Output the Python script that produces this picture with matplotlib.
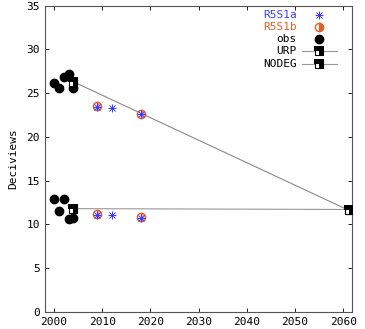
""" Deciview projection chart: observations, model runs and glide paths """

import matplotlib
matplotlib.use("Agg")
import matplotlib.pyplot as plt

# observed deciviews, worst and best days
obs_years = [2000, 2001, 2002, 2003, 2004]
obs_worst = [26.2, 25.6, 26.8, 27.2, 25.6]
obs_best = [12.9, 11.5, 12.9, 10.6, 10.7]

# model runs
r5s1a_years = [2009, 2012, 2018]
r5s1a_worst = [23.4, 23.3, 22.6]
r5s1a_best = [11.1, 11.1, 10.7]
r5s1b_years = [2009, 2018]
r5s1b_worst = [23.5, 22.6]
r5s1b_best = [11.2, 10.8]

# glide paths
urp_years = [2004, 2061.2]
urp_values = [26.3, 11.6]
nodeg_years = [2004, 2061.2]
nodeg_values = [11.8, 11.7]

blue = "#3a3aff"
orange = "#e0602a"
mono = "DejaVu Sans Mono"

# black square with the lower left quarter left open (gnuplot point type)
L_SHAPE = [(-1, 0), (-1, 1), (1, 1), (1, -1), (0, -1), (0, 0), (-1, 0)]

fig = plt.figure(figsize=(3.65, 3.29), dpi=100)
ax = fig.add_axes([0.123, 0.052, 0.841, 0.931])


def square(x, y):
    """gnuplot style half filled square"""
    ax.plot(x, y, "s", mfc="white", mec="black", mew=0.8, ms=6, zorder=5)
    ax.plot(x, y, marker=L_SHAPE, ls="none", color="black", mew=0,
            ms=6.8, zorder=6)


ax.plot(urp_years, urp_values, color="#888888", lw=0.8, zorder=2)
ax.plot(nodeg_years, nodeg_values, color="#999999", lw=0.8, zorder=2)
square(urp_years, urp_values)
square(nodeg_years, nodeg_values)

ax.plot(obs_years, obs_worst, "o", color="black", ms=6, zorder=4)
ax.plot(obs_years, obs_best, "o", color="black", ms=6, zorder=4)

for yrs, vals in [(r5s1b_years, r5s1b_worst), (r5s1b_years, r5s1b_best)]:
    ax.plot(yrs, vals, "o", ms=6, mfc="#f0c0b0", mec=orange, mew=1,
            fillstyle="right", markerfacecoloralt="white", zorder=3)
for yrs, vals in [(r5s1a_years, r5s1a_worst), (r5s1a_years, r5s1a_best)]:
    ax.plot(yrs, vals, "x", color=blue, ms=5, mew=0.7, zorder=3)
    ax.plot(yrs, vals, "+", color=blue, ms=6, mew=0.7, zorder=3)

ax.set_xlim(1998.1, 2061.8)
ax.set_ylim(0, 35)
ax.set_xticks(range(2000, 2061, 10))
ax.set_yticks(range(0, 36, 5))
ax.tick_params(direction="in", top=True, right=True, length=3,
               labelsize=8, width=0.6)
for lab in ax.get_xticklabels() + ax.get_yticklabels():
    lab.set_family(mono)
for s in ax.spines.values():
    s.set_color("#555555")
    s.set_linewidth(0.8)
ax.set_ylabel("Deciviews", family=mono, fontsize=8, labelpad=6)

# legend, drawn the gnuplot way: text right-aligned, sample to its right
labels = ["R5S1a", "R5S1b", "obs", "URP", "NODEG"]
colors = [blue, orange, "black", "black", "black"]
for i, (lab, col) in enumerate(zip(labels, colors)):
    y = 33.9 - i * 1.38
    ax.text(2050.4, y, lab, ha="right", va="center", fontsize=8,
            family=mono, color=col)
    mx = 2055
    if i == 0:
        ax.plot([mx], [y], "x", color=blue, ms=5, mew=0.7)
        ax.plot([mx], [y], "+", color=blue, ms=6, mew=0.7)
    elif i == 1:
        ax.plot([mx], [y], "o", ms=6, mfc=orange, mec=orange,
                fillstyle="right", markerfacecoloralt="white")
    elif i == 2:
        ax.plot([mx], [y], "o", color="black", ms=6)
    else:
        ax.plot([2051.4, 2058.7], [y, y], color="#999999", lw=0.8)
        square([mx], [y])

fig.savefig("out.png", dpi=100)
